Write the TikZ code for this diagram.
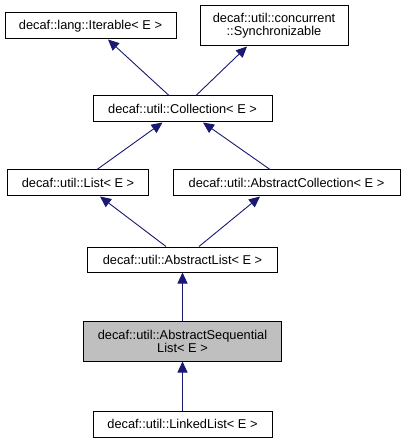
\documentclass[tikz,border=0pt]{standalone}
\usepackage{fontspec}
\setmainfont{Liberation Sans}
\usetikzlibrary{arrows.meta}
\definecolor{edgeblue}{HTML}{191970}
\definecolor{boxgray}{HTML}{BFBFBF}
\tikzset{
  cls/.style={draw=black, line width=1pt, fill=white, inner sep=0pt, align=center,
    font=\fontsize{12.8}{13}\selectfont},
  inh/.style={draw=edgeblue, line width=0.9pt, -{Triangle[length=11pt,width=10pt]}, shorten >=0pt}
}
\begin{document}
\begin{tikzpicture}[x=1pt,y=-1pt]
\useasboundingbox (0,0) rectangle (405,443);
\node[cls, minimum width=171pt, minimum height=26pt] (iter) at (90.5,26) {decaf::lang::Iterable< E >};
\node[cls, minimum width=148pt, minimum height=40pt] (sync) at (274,26) {decaf::util::concurrent\\::Synchronizable};
\node[cls, minimum width=179pt, minimum height=26pt] (coll) at (182.5,109) {decaf::util::Collection< E >};
\node[cls, minimum width=141pt, minimum height=26pt] (list) at (78,183) {decaf::util::List< E >};
\node[cls, minimum width=227pt, minimum height=26pt] (acoll) at (286.5,183) {decaf::util::AbstractCollection< E >};
\node[cls, minimum width=190pt, minimum height=25pt] (alist) at (182.5,259.5) {decaf::util::AbstractList< E >};
\node[cls, fill=boxgray, minimum width=198pt, minimum height=40pt] (aseq) at (182.5,341) {decaf::util::AbstractSequential\\List< E >};
\node[cls, minimum width=179pt, minimum height=26pt] (linked) at (182.5,424) {decaf::util::LinkedList< E >};

\draw[inh] ([xshift=-13.5pt]coll.north) -- ([xshift=17.5pt]iter.south);
\draw[inh] ([xshift=13.5pt]coll.north) -- ([xshift=-27pt]sync.south);
\draw[inh] ([xshift=19pt]list.north) -- ([xshift=-20pt]coll.south);
\draw[inh] ([xshift=-16.5pt]acoll.north) -- ([xshift=20.5pt]coll.south);
\draw[inh] ([xshift=-16.5pt]alist.north) -- ([xshift=22pt]list.south);
\draw[inh] ([xshift=16.5pt]alist.north) -- ([xshift=-26.5pt]acoll.south);
\draw[inh] (aseq.north) -- (alist.south);
\draw[inh] (linked.north) -- (aseq.south);
\end{tikzpicture}
\end{document}
